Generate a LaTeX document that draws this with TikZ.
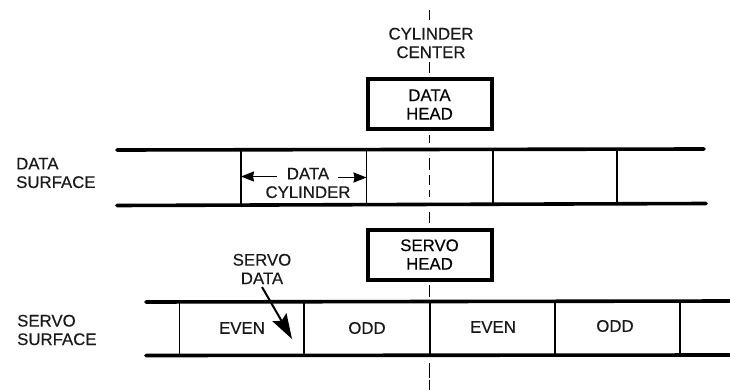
\documentclass[tikz,border=0pt]{standalone}
\usepackage{fontspec}
\setmainfont{Liberation Sans}
\newfontface\lblface[FakeBold=0.25]{Liberation Sans}
\usetikzlibrary{arrows.meta}
\tikzset{
  lbl/.style={font=\lblface\fontsize{16.8}{18.5}\selectfont, inner sep=0pt, align=center, text=black!90},
  lblL/.style={lbl, align=left, anchor=west},
  surf/.style={line width=3.6pt, line cap=round},
  sep/.style={line width=1.7pt},
  headbox/.style={draw, line width=4pt, fill=white, minimum width=124pt, minimum height=50pt, inner sep=0pt, font=\lblface\fontsize{16.8}{18.5}\selectfont, align=center},
  centerdash/.style={line width=1.4pt},
  dimarrow/.style={line width=1.9pt, -{Stealth[length=13pt,width=10pt,inset=1pt]}},
  bigarrow/.style={line width=2pt, -{Stealth[length=25pt,width=16pt,inset=4pt]}}
}
\begin{document}
\begin{tikzpicture}[x=1pt,y=-1pt]
\useasboundingbox (0,0) rectangle (730,390);
\fill[white] (0,0) rectangle (730,390);
% cylinder centre line
\foreach \a/\b in {10/20,62/73,135/143,158/170,175/185,190/197,212/223,285/297,363/378,380/390}
  \draw[centerdash] (429.5,\a) -- (429.5,\b);
\node[lbl] (cc) at (431,43) {CYLINDER\\CENTER};
% heads
\node[headbox] (dh) at (429.5,104.5) {DATA\\HEAD};
\node[headbox] (sh) at (429.5,254.5) {SERVO\\HEAD};
% data surface
\coordinate (dtl) at (117,150); \coordinate (dtr) at (704,149);
\coordinate (dbl) at (117,205.5); \coordinate (dbr) at (706,203.5);
\draw[surf] (dtl) -- (dtr);
\draw[surf] (dbl) -- (dbr);
\foreach \n/\x in {a/241,b/366.5,c/493,d/617}{
  \coordinate (dt\n) at (\x,150); \coordinate (db\n) at (\x,204.5);
  \draw[sep] (dt\n) -- (db\n);
}
\node[lblL] (ds) at (16,173) {DATA\\SURFACE};
\node[lbl] (dc) at (308,183) {DATA\\CYLINDER};
\coordinate (dl) at (277,176.5); \coordinate (dr) at (338,177.5);
\draw[dimarrow] (dl) -- (dta |- dl);
\draw[dimarrow] (dr) -- (dtb |- dr);
% servo surface
\coordinate (stl) at (146,302); \coordinate (str) at (730,301);
\coordinate (sbl) at (146,355.5); \coordinate (sbr) at (730,355);
\draw[surf] (stl) -- (str);
\draw[surf] (sbl) -- (sbr);
\foreach \n/\x in {a/179.5,b/304,c/430,d/555,e/680}{
  \coordinate (st\n) at (\x,302); \coordinate (sb\n) at (\x,355);
  \draw[sep] (st\n) -- (sb\n);
}
\node[lblL] (ss) at (17,330) {SERVO\\SURFACE};
\node[lbl] (sd) at (262,269) {SERVO\\DATA};
\coordinate (sa) at (262,287); \coordinate (sbt) at (292,339);
\draw[bigarrow] (sa) -- (sbt);
\node[lbl] (e1) at (242,328) {EVEN};
\node[lbl] (o1) at (367,328) {ODD};
\node[lbl] (e2) at (493,327) {EVEN};
\node[lbl] (o2) at (615,326) {ODD};
\end{tikzpicture}
\end{document}
